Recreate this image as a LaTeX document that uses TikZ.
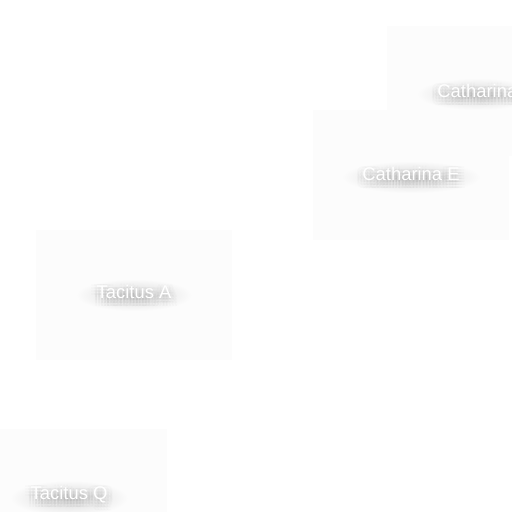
\documentclass[tikz,border=0pt]{standalone}
\usepackage{fontspec}
\setmainfont{Liberation Sans}
\usetikzlibrary{positioning,fadings}

\definecolor{cardgray}{RGB}{252,252,252}
\definecolor{shadowgray}{RGB}{60,60,60}

\pgfdeclarelayer{cards}
\pgfdeclarelayer{shade}
\pgfsetlayers{cards,shade,main}

\tikzfading[name=softblob, inner color=transparent!0, outer color=transparent!100]

\tikzset{
	card/.style={fill=cardgray, draw=none, minimum width=196, minimum height=130, inner sep=0},
	cardtext/.style={text=white, font=\fontsize{18.5}{22}\selectfont, inner sep=0},
	cardshadow/.style={text=shadowgray, opacity=0.02, font=\fontsize{18.5}{22}\selectfont, inner sep=0},
	blob/.style={fill=black, fill opacity=0.14, path fading=softblob}
}

\begin{document}
\begin{tikzpicture}[x=1bp, y=-1bp]

			\useasboundingbox (0, 0) rectangle (512, 512);
			\clip (0, 0) rectangle (512, 512);

			\begin{pgfonlayer}{cards}
			\fill[white] (0, 0) rectangle (512, 512);
			\node[card] (catX) at (485, 91) {};
			\node[card] (catE) at (411, 175) {};
			\node[card] (tacA) at (134, 295) {};
			\node[card] (tacQ) at (69, 494) {};
			\end{pgfonlayer}

			\node[cardtext, anchor=west] (catXlabel) at ([xshift=-48]catX.center) {Catharina};
			\node[cardtext] (catElabel) at ([yshift=1]catE.center) {Catharina E};
			\node[cardtext] (tacAlabel) at ([yshift=3]tacA.center) {Tacitus A};
			\node[cardtext] (tacQlabel) at ([yshift=-1]tacQ.center) {Tacitus Q};

			% soft shadow under each label
			\begin{pgfonlayer}{shade}
			\foreach \lbl in {catXlabel, catElabel, tacAlabel, tacQlabel} {
				\path[blob] ([shift={(-20, -6)}]\lbl.north west) rectangle ([shift={(20, 12)}]\lbl.south east);
			}
			\foreach \lbl/\name in {catElabel/Catharina E, tacAlabel/Tacitus A, tacQlabel/Tacitus Q, catXlabel/Catharina} {
				\foreach \dx in {-6, -3, 0, 3, 6} {
					\foreach \dy in {-1, 2, 5, 8} {
						\node[cardshadow] at ([shift={(\dx, \dy)}]\lbl.center) {\name};
					}
				}
			}
			\end{pgfonlayer}

		\end{tikzpicture}
\end{document}
